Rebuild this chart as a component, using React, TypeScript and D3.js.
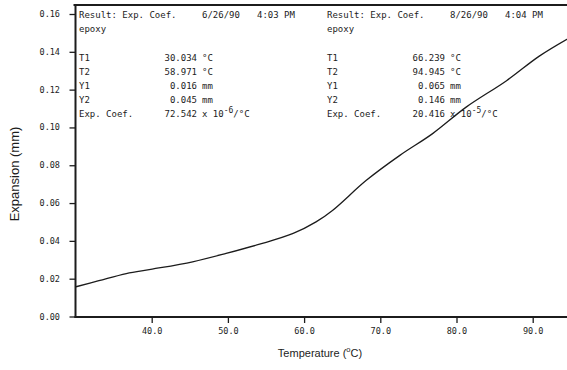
import React from "react";
import * as d3 from "d3";

const temps = [30, 33, 36.6, 40, 45.3, 49.7, 54.1, 58.5, 61.5, 63.7, 68.1, 72.5, 76.8, 81.2, 86.5, 90.8, 94.9];
const expansion = [0.016, 0.0192, 0.023, 0.0253, 0.0292, 0.0336, 0.0385, 0.0442, 0.0503, 0.0565, 0.0723, 0.0855, 0.097, 0.111, 0.125, 0.138, 0.148];
const xTicks = [40, 50, 60, 70, 80, 90];
const yTicks = [0, 0.02, 0.04, 0.06, 0.08, 0.1, 0.12, 0.14, 0.16];

const leftBlock = {
  date: "6/26/90", time: "4:03 PM", sample: "epoxy",
  rows: [["T1", "30.034", "°C"], ["T2", "58.971", "°C"], ["Y1", "0.016", "mm"], ["Y2", "0.045", "mm"]],
  coef: "72.542", exp: "-6",
};
const rightBlock = {
  date: "8/26/90", time: "4:04 PM", sample: "epoxy",
  rows: [["T1", "66.239", "°C"], ["T2", "94.945", "°C"], ["Y1", "0.065", "mm"], ["Y2", "0.146", "mm"]],
  coef: "20.416", exp: "-5",
};

const W = 567, H = 370;
const x = d3.scaleLinear().domain([30, 95]).range([76, 76 + 65 * 7.62]);
const y = d3.scaleLinear().domain([0, 0.16]).range([317, 14.5]);
const AX = 75.5;
const TOP = 5;
const ink = "#1c1c1c";
const mono = "'DejaVu Sans Mono', 'Liberation Mono', monospace";
const sans = "'Liberation Sans', Arial, sans-serif";

function Block({ b, x0 }: { b: typeof leftBlock; x0: number }) {
  const rowY = [58, 72, 86, 100];
  return (
    <g fontFamily={mono} fontSize={9} fill={ink} dominantBaseline="middle">
      <text x={x0} y={15}>Result: Exp. Coef.</text>
      <text x={x0 + 123} y={15}>{b.date}</text>
      <text x={x0 + 178} y={15}>{b.time}</text>
      <text x={x0} y={29}>{b.sample}</text>
      {b.rows.map((r, i) => (
        <g key={i}>
          <text x={x0} y={rowY[i]}>{r[0]}</text>
          <text x={x0 + 118} y={rowY[i]} textAnchor="end">{r[1]}</text>
          <text x={x0 + 123} y={rowY[i]}>{r[2]}</text>
        </g>
      ))}
      <text x={x0} y={114}>Exp. Coef.</text>
      <text x={x0 + 118} y={114} textAnchor="end">{b.coef}</text>
      <text x={x0 + 123} y={114}>
        x 10
        <tspan dy={-4} fontSize={8}>{b.exp}</tspan>
        <tspan dy={4}>/°C</tspan>
      </text>
    </g>
  );
}

export default function App() {
  const line = d3.line<number>().x((_, i) => x(temps[i])).y((d) => y(d)).curve(d3.curveCatmullRom.alpha(0.5));
  return (
    <div style={{ position: "fixed", left: 0, top: 0, background: "#fff" }}>
      <svg width={W} height={H} style={{ display: "block" }}>
        <rect width={W} height={H} fill="#fff" />
        <defs>
          <clipPath id="plot">
            <rect x={AX} y={TOP} width={W - AX} height={317 - TOP} />
          </clipPath>
        </defs>
        {/* frame */}
        <line x1={AX - 2} y1={TOP} x2={W} y2={TOP} stroke={ink} strokeWidth={1.8} />
        <line x1={AX} y1={TOP - 1} x2={AX} y2={318} stroke={ink} strokeWidth={2} />
        <line x1={AX - 1} y1={317} x2={W} y2={317} stroke={ink} strokeWidth={2} />
        {/* y ticks */}
        {yTicks.map((t) => (
          <g key={t}>
            <line x1={AX - 6} x2={AX} y1={y(t)} y2={y(t)} stroke={ink} strokeWidth={1.3} />
            <text x={60} y={y(t)} textAnchor="end" dominantBaseline="middle" fontFamily={mono} fontSize={8.5} fill={ink}>
              {t.toFixed(2)}
            </text>
          </g>
        ))}
        {/* x ticks */}
        {xTicks.map((t) => (
          <g key={t}>
            <line x1={x(t)} x2={x(t)} y1={317} y2={323} stroke={ink} strokeWidth={1.3} />
            <text x={x(t)} y={331} textAnchor="middle" dominantBaseline="middle" fontFamily={mono} fontSize={8.5} fill={ink}>
              {t.toFixed(1)}
            </text>
          </g>
        ))}
        {/* curve */}
        <path d={line(expansion) || ""} fill="none" stroke={ink} strokeWidth={1.3} clipPath="url(#plot)" />
        <Block b={leftBlock} x0={79} />
        <Block b={rightBlock} x0={327} />
        {/* axis titles */}
        <text
          transform="translate(16,174) rotate(-90)"
          textAnchor="middle"
          dominantBaseline="middle"
          fontFamily={sans}
          fontSize={13}
          fill={ink}
        >
          Expansion (mm)
        </text>
        <text x={320} y={354} textAnchor="middle" dominantBaseline="middle" fontFamily={sans} fontSize={11} fill={ink}>
          Temperature (<tspan dy={-4} fontSize={7.5}>o</tspan>
          <tspan dy={4}>C)</tspan>
        </text>
      </svg>
    </div>
  );
}
